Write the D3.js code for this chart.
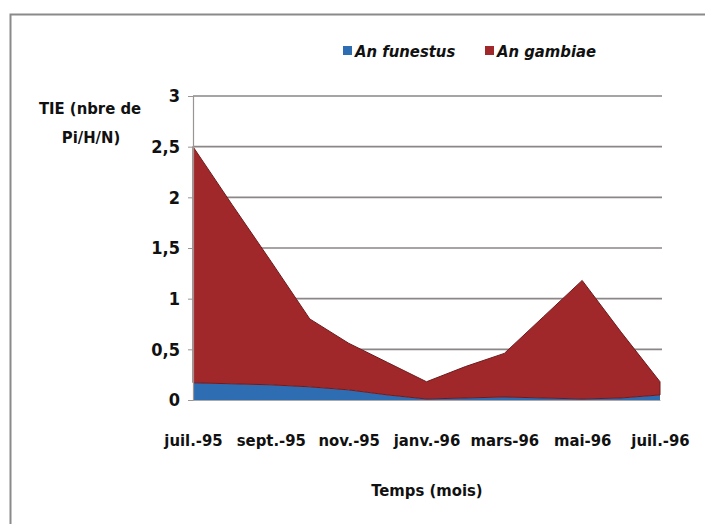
<!DOCTYPE html>
<html>
<head>
<meta charset="utf-8">
<script src="https://cdn.jsdelivr.net/npm/d3@7"></script>
<style>
  body { margin: 0; background: #fff; }
  text { font-family: "DejaVu Sans Condensed", "Liberation Sans Narrow", "Open Sans", sans-serif; font-weight: bold; fill: #111; }
</style>
</head>
<body>
<div id="chart"></div>
<script>
// monthly points, one label every two months
var months = ["juil.-95","août-95","sept.-95","oct.-95","nov.-95","déc.-95","janv.-96",
              "févr.-96","mars-96","avr.-96","mai-96","juin-96","juil.-96"];
var tickLabels = ["juil.-95","sept.-95","nov.-95","janv.-96","mars-96","mai-96","juil.-96"];
var funestus = [0.17, 0.16, 0.15, 0.13, 0.10, 0.05, 0.01, 0.02, 0.03, 0.02, 0.01, 0.02, 0.05];
var gambiae  = [2.33, 1.77, 1.22, 0.67, 0.46, 0.32, 0.17, 0.31, 0.43, 0.80, 1.17, 0.65, 0.13];
var yTicks = [0, 0.5, 1, 1.5, 2, 2.5, 3];
var seriesNames = ["An funestus", "An gambiae"];
var colors = ["#2f6db3", "#a1282a"];

var W = 705, H = 524;
var margin = {left: 193, right: 43, top: 96, bottom: 124};

var svg = d3.select("#chart").append("svg")
  .attr("width", W).attr("height", H);

// outer frame
svg.append("rect")
  .attr("x", 10.5).attr("y", 14.5)
  .attr("width", 720).attr("height", 540)
  .attr("fill", "#fff").attr("stroke", "#8a8a8a").attr("stroke-width", 2);

var x = d3.scalePoint().domain(months).range([margin.left, W - margin.right - 2]);
var y = d3.scaleLinear().domain([0, 3]).range([H - margin.bottom, margin.top]);

// gridlines
svg.append("g").selectAll("line")
  .data(yTicks.filter(function(d){ return d > 0; }))
  .enter().append("line")
    .attr("x1", margin.left).attr("x2", W - margin.right)
    .attr("y1", function(d){ return y(d); }).attr("y2", function(d){ return y(d); })
    .attr("stroke", "#8c8686").attr("stroke-width", 1.6);

// stacked areas
var rows = months.map(function(m, i){ return {month: m, f: funestus[i], g: gambiae[i]}; });
var stack = d3.stack().keys(["f", "g"]);
var layers = stack(rows);

var area = d3.area()
  .x(function(d){ return x(d.data.month); })
  .y0(function(d){ return y(d[0]); })
  .y1(function(d){ return y(d[1]); });

svg.append("g").selectAll("path")
  .data(layers)
  .enter().append("path")
    .attr("d", area)
    .attr("fill", function(d, i){ return colors[i]; })
    .attr("stroke", function(d, i){ return i == 1 ? "#6e1a1c" : "none"; })
    .attr("stroke-width", 1);

// y axis
var yAxis = d3.axisLeft(y).tickValues(yTicks).tickSize(5)
  .tickFormat(function(d){ return String(d).replace(".", ","); });
var gy = svg.append("g")
  .attr("transform", "translate(" + margin.left + ",0)")
  .call(yAxis);
gy.select(".domain").attr("stroke", "#9a9494").attr("stroke-width", 1.2);
gy.selectAll(".tick line").attr("stroke", "#9a9494");
gy.selectAll(".tick text").attr("x", -13).attr("font-size", 18).style("fill", "#111");

// x axis (labels only)
var xAxis = d3.axisBottom(x).tickValues(tickLabels).tickSize(0).tickPadding(0);
var gx = svg.append("g")
  .attr("transform", "translate(0," + (H - margin.bottom) + ")")
  .call(xAxis);
gx.select(".domain").attr("stroke", "#a9a9a9").attr("stroke-width", 1);
gx.selectAll(".tick text").attr("y", 46).attr("dy", 0).attr("font-size", 16.5).style("fill", "#111");

// axis titles
svg.append("text").attr("x", 90).attr("y", 114).attr("text-anchor", "middle")
  .attr("font-size", 16.5).text("TIE (nbre de");
svg.append("text").attr("x", 91).attr("y", 143).attr("text-anchor", "middle")
  .attr("font-size", 16.5).text("Pi/H/N)");
svg.append("text").attr("x", 427).attr("y", 496).attr("text-anchor", "middle")
  .attr("font-size", 16.5).text("Temps (mois)");

// legend
var legendX = [343, 485];
var lg = svg.append("g").selectAll("g")
  .data(seriesNames)
  .enter().append("g")
    .attr("transform", function(d, i){ return "translate(" + legendX[i] + ",46)"; });
lg.append("rect").attr("width", 9).attr("height", 9)
  .attr("fill", function(d, i){ return colors[i]; });
lg.append("text").attr("x", 12).attr("y", 11)
  .attr("font-size", 16.5).attr("font-style", "italic")
  .text(function(d){ return d; });
</script>
</body>
</html>
